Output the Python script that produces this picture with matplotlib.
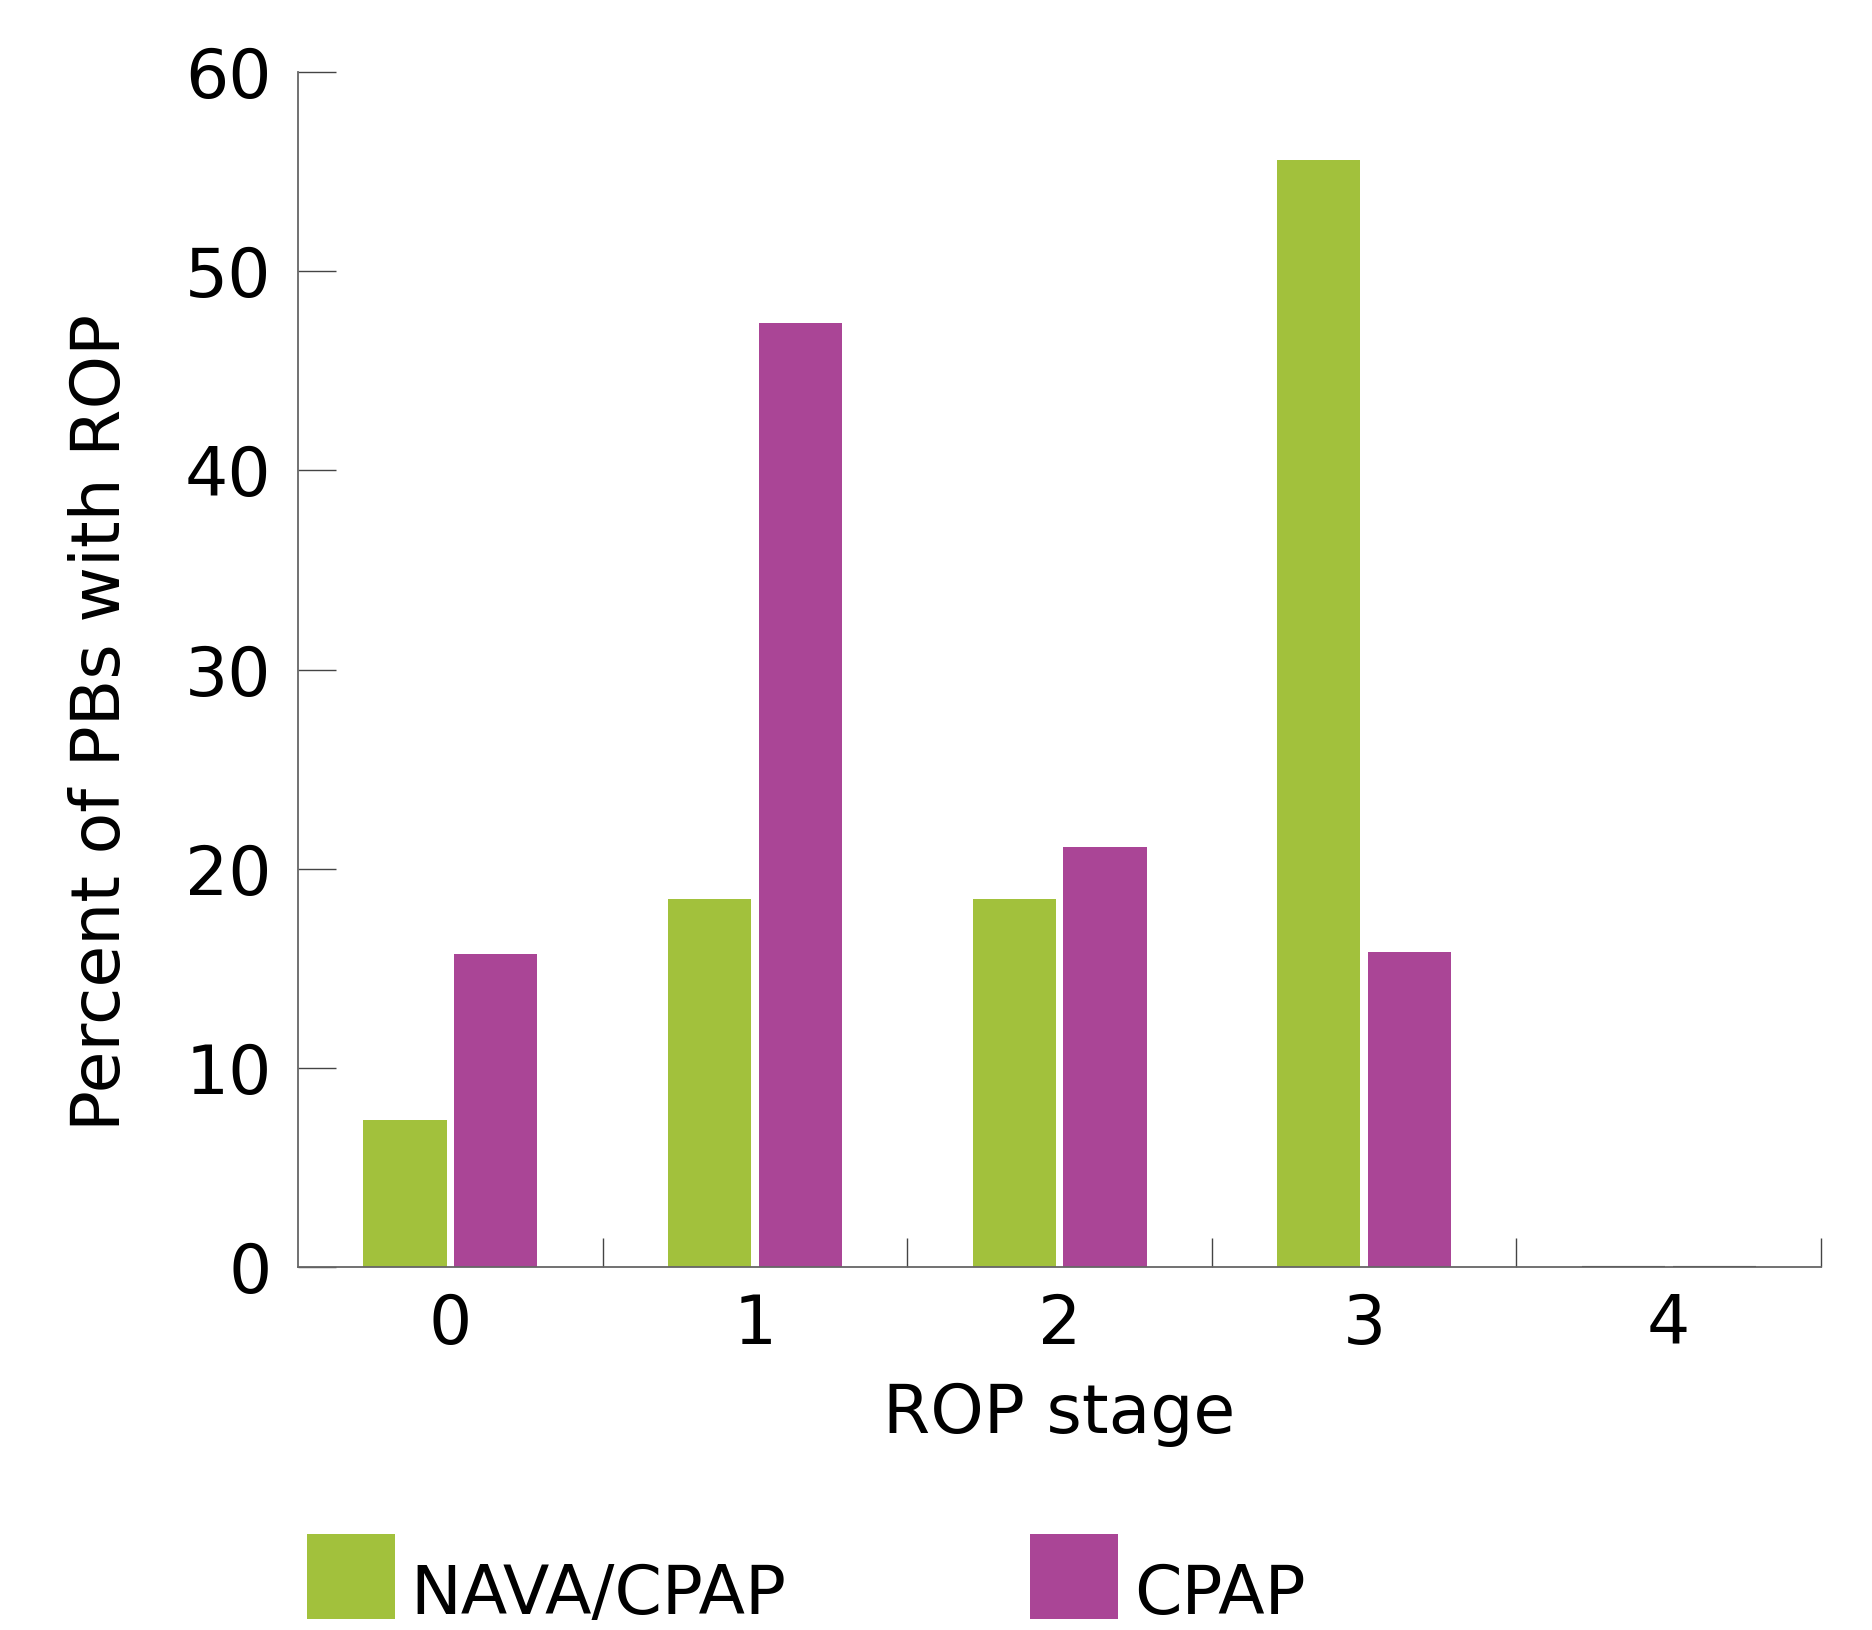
import matplotlib
matplotlib.use("Agg")
import matplotlib.pyplot as plt
from matplotlib.patches import Rectangle
import numpy as np

stages = ["0", "1", "2", "3", "4"]
nava_cpap = [7.4, 18.5, 18.5, 55.6, 0.0]
cpap = [15.7, 47.4, 21.1, 15.8, 0.0]

green = "#A2C13C"
purple = "#AA4596"

plt.rcParams['font.family'] = ['DejaVu Sans']

fig = plt.figure(figsize=(18.72, 16.30), dpi=100)
ax = fig.add_axes([0.1592, 0.2227, 0.8136, 0.7331])

x = np.arange(len(stages))
w = 0.273
off = 0.149
lw_g = [1.5 if v == 0 else 0 for v in nava_cpap]
lw_p = [1.5 if v == 0 else 0 for v in cpap]
ax.bar(x - off, nava_cpap, w, color=green, edgecolor="#222222", linewidth=lw_g)
ax.bar(x + off, cpap, w, color=purple, edgecolor="#222222", linewidth=lw_p)

ax.set_xlim(-0.5, len(stages) - 0.5)
ax.set_ylim(0, 60)
ax.set_yticks(range(0, 61, 10))
ax.set_xticks(x)
ax.set_xticklabels(stages)
ax.set_xticks(np.arange(0.5, len(stages), 1), minor=True)

for s in ["top", "right"]:
    ax.spines[s].set_visible(False)
for s in ["left", "bottom"]:
    ax.spines[s].set_color("#666666")
    ax.spines[s].set_linewidth(1.3)

fs = 49
ax.tick_params(axis="y", direction="in", length=27, width=1, color="#444444",
               labelsize=fs, pad=19)
ax.tick_params(axis="x", which="major", length=0, labelsize=fs, pad=18)
ax.tick_params(axis="x", which="minor", direction="in", length=21, width=1,
               color="#444444")

ax.set_ylabel("Percent of PBs with ROP", fontsize=fs)
ax.yaxis.set_label_coords(-0.108, 0.456)
ax.set_xlabel("ROP stage", fontsize=fs, va="top")
ax.xaxis.set_label_coords(0.5, -0.095)

# legend drawn along the bottom
fig.add_artist(Rectangle((0.164, 0.0068), 0.047, 0.0521, transform=fig.transFigure,
                         facecolor=green, edgecolor="none"))
fig.text(0.219, 0.0098, "NAVA/CPAP", fontsize=fs, va="baseline")
fig.add_artist(Rectangle((0.550, 0.0068), 0.047, 0.0521, transform=fig.transFigure,
                         facecolor=purple, edgecolor="none"))
fig.text(0.606, 0.0098, "CPAP", fontsize=fs, va="baseline")

fig.savefig("out.png", dpi=100)
